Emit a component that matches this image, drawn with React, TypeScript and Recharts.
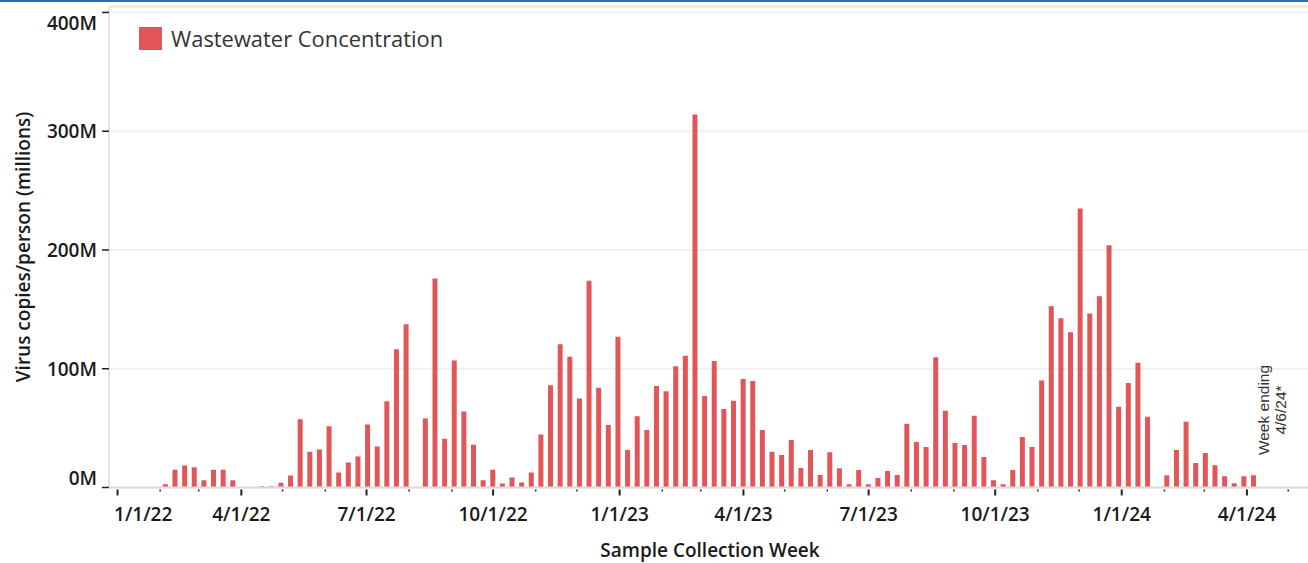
import React from "react";
import {
  BarChart,
  Bar,
  XAxis,
  YAxis,
  CartesianGrid,
  ReferenceLine,
  Legend,
} from "recharts";

// ---------------- data ----------------
const FIRST_WEEK_ENDING = "2022-02-05"; // weekly samples, week ending Saturday
const concentrationMillions: (number | null)[] = [
  2.8, 15, 18.6, 17, 6, 15, 15, 6, null, null,
  1.1, 1.1, 4, 10, 57.5, 30, 32, 51.5, 12.7, 21,
  26, 53, 34.6, 72.6, 116.5, 137.5, null, 58, 176, 41,
  107, 64, 36, 6, 15, 3.4, 8.4, 4.2, 12.7, 44.7,
  86, 120.7, 110, 75, 174, 84, 52.6, 127, 31.6, 60,
  48.4, 85.5, 81, 102, 111, 314, 77, 106.5, 66, 73,
  91.4, 89.7, 48.4, 30, 27.4, 40, 16.4, 31.6, 10.5, 29.7,
  16.3, 2.8, 14.7, 2.8, 7.9, 13.8, 10.5, 53.6, 38.4, 34,
  109.6, 64.7, 37.5, 35.8, 60.4, 25.7, 6.2, 2.8, 14.7, 42.6,
  34, 90, 152.7, 142.5, 130.7, 235, 146.6, 161, 204, 68,
  88, 105, 59.5, null, 10.4, 31.6, 55.4, 20.7, 29, 18.8,
  9.5, 3.6, 9.5, 10.4,
];
const xTickLabels = [
  "1/1/22", "4/1/22", "7/1/22", "10/1/22", "1/1/23",
  "4/1/23", "7/1/23", "10/1/23", "1/1/24", "4/1/24",
];
const yTicks = [0, 100e6, 200e6, 300e6, 400e6];
const yTickLabels = ["0M", "100M", "200M", "300M", "400M"];
const Y_MAX = 405e6;
const X_DOMAIN_DAYS: [number, number] = [-6.2, 865.4];
const SERIES_NAME = "Wastewater Concentration";
const NOTE_LINES = ["Week ending", "4/6/24*"];

// --------------- helpers ---------------
const BASE = Date.UTC(2022, 0, 1);
const dayOf = (y: number, m: number, d: number) =>
  Math.round((Date.UTC(y, m - 1, d) - BASE) / 86400000);
const parseIso = (s: string) => {
  const [y, m, d] = s.split("-").map(Number);
  return dayOf(y, m, d);
};
const parseLabel = (s: string) => {
  const [m, d, yy] = s.split("/").map(Number);
  return dayOf(2000 + yy, m, d);
};

const firstDay = parseIso(FIRST_WEEK_ENDING);
const data = concentrationMillions.map((v, i) => ({
  day: firstDay + 7 * i,
  value: v == null ? null : v * 1e6,
}));
const lastDay = data[data.length - 1].day;

const majorDays = xTickLabels.map(parseLabel);
const labelByDay = new Map<number, string>();
xTickLabels.forEach((l, i) => labelByDay.set(majorDays[i], l));

const monthDays: number[] = [];
for (let y = 2022; y <= 2024; y++) {
  for (let m = 1; m <= 12; m++) {
    const d = dayOf(y, m, 1);
    if (d >= X_DOMAIN_DAYS[0] && d <= X_DOMAIN_DAYS[1]) monthDays.push(d);
  }
}

const FONT = "'Open Sans', 'Noto Sans', sans-serif";
const BAR_COLOR = "#e15759";

const XTick = (props: any) => {
  const { x, y, payload } = props;
  const v = payload.value;
  const label = labelByDay.get(v);
  if (label) {
    const isFirst = v === majorDays[0];
    return (
      <g>
        <line x1={x} x2={x} y1={y + 2} y2={y + 8} stroke="#222" strokeWidth={2} />
        <text
          x={isFirst ? x - 3.5 : x}
          y={y + 33.5}
          textAnchor={isFirst ? "start" : "middle"}
          fontFamily={FONT}
          fontSize={19}
          fontWeight={600}
          fill="#1a1a1a"
        >
          {label}
        </text>
      </g>
    );
  }
  return <line x1={x} x2={x} y1={y + 2} y2={y + 4} stroke="#222" strokeWidth={1.5} />;
};

const YTick = (props: any) => {
  const { x, y, payload } = props;
  const v = payload.value;
  const idx = yTicks.indexOf(v);
  const label = yTickLabels[idx] ?? "";
  // keep the end labels inside the axis range
  let cy = y;
  if (idx === 0) cy = y - 10;
  else if (idx === yTicks.length - 1) cy = y + 10.5;
  return (
    <g>
      <line x1={x + 5} x2={x + 12} y1={y} y2={y} stroke="#222" strokeWidth={1.5} />
      <text
        x={x}
        y={cy}
        textAnchor="end"
        dominantBaseline="central"
        fontFamily={FONT}
        fontSize={19}
        fontWeight={600}
        fill="#1a1a1a"
      >
        {label}
      </text>
    </g>
  );
};

const YTitle = (props: any) => {
  const vb = props.viewBox || {};
  const cx = 23;
  const cy = vb.y + vb.height / 2;
  return (
    <text
      x={cx}
      y={cy}
      transform={`rotate(-90, ${cx}, ${cy})`}
      textAnchor="middle"
      dominantBaseline="central"
      fontFamily={FONT}
      fontSize={19}
      fontWeight={600}
      fill="#1a1a1a"
    >
      Virus copies/person (millions)
    </text>
  );
};

const XTitle = (props: any) => {
  const vb = props.viewBox || {};
  return (
    <text
      x={vb.x + vb.width / 2 + 1.5}
      y={557}
      textAnchor="middle"
      fontFamily={FONT}
      fontSize={19}
      fontWeight={600}
      fill="#1a1a1a"
    >
      Sample Collection Week
    </text>
  );
};

const NoteLabel = (props: any) => {
  const vb = props.viewBox || {};
  const cy = 410;
  return (
    <g>
      {NOTE_LINES.map((t, i) => {
        const cx = vb.x + 9.5 + i * 17;
        return (
          <text
            key={i}
            x={cx}
            y={cy}
            transform={`rotate(-90, ${cx}, ${cy})`}
            textAnchor="middle"
            dominantBaseline="central"
            fontFamily="'Liberation Sans', Arial, sans-serif"
            fontSize={15.5}
            fill="#333"
          >
            {t}
          </text>
        );
      })}
    </g>
  );
};

const LegendContent = () => (
  <div style={{ display: "flex", alignItems: "center", whiteSpace: "nowrap" }}>
    <div style={{ width: 23, height: 23, background: BAR_COLOR }} />
    <span
      style={{
        marginLeft: 9,
        fontFamily: FONT,
        fontSize: 21.9,
        lineHeight: "23px",
        color: "#333",
      }}
    >
      {SERIES_NAME}
    </span>
  </div>
);

export default function App() {
  return (
    <div
      style={{
        position: "fixed",
        left: 0,
        top: 0,
        width: 1308,
        height: 563,
        background: "#fff",
        overflow: "hidden",
      }}
    >
      <div
        style={{
          position: "absolute",
          left: 0,
          top: 0,
          width: 1308,
          height: 2,
          background: "#2170c7",
          zIndex: 2,
        }}
      />
      <BarChart
        width={1308}
        height={563}
        data={data}
        margin={{ top: 6.5, right: 0, bottom: 0, left: 0 }}
      >
        <CartesianGrid vertical={false} stroke="#f1f1f1" strokeWidth={2} />
        <ReferenceLine y={Y_MAX} stroke="#e6e6e6" strokeWidth={2} />
        <XAxis
          dataKey="day"
          type="number"
          domain={X_DOMAIN_DAYS}
          ticks={monthDays}
          interval={0}
          allowDataOverflow
          height={75.5}
          tickSize={0}
          tickMargin={0}
          tickLine={false}
          axisLine={{ stroke: "#dcdcdc", strokeWidth: 2 }}
          tick={<XTick />}
          label={<XTitle />}
        />
        <YAxis
          type="number"
          domain={[0, Y_MAX]}
          ticks={yTicks}
          interval={0}
          allowDataOverflow
          width={109}
          tickSize={7}
          tickMargin={5}
          tickLine={false}
          axisLine={{ stroke: "#e4e4e4", strokeWidth: 2 }}
          tick={<YTick />}
          label={<YTitle />}
        />
        <Legend
          layout="vertical"
          align="center"
          verticalAlign="middle"
          content={<LegendContent />}
          wrapperStyle={{ top: 27, left: 139, width: "auto", height: "auto" }}
        />
        <ReferenceLine x={lastDay} stroke="none" label={<NoteLabel />} />
        <Bar
          dataKey="value"
          name={SERIES_NAME}
          fill={BAR_COLOR}
          barSize={5}
          isAnimationActive={false}
        />
      </BarChart>
    </div>
  );
}
